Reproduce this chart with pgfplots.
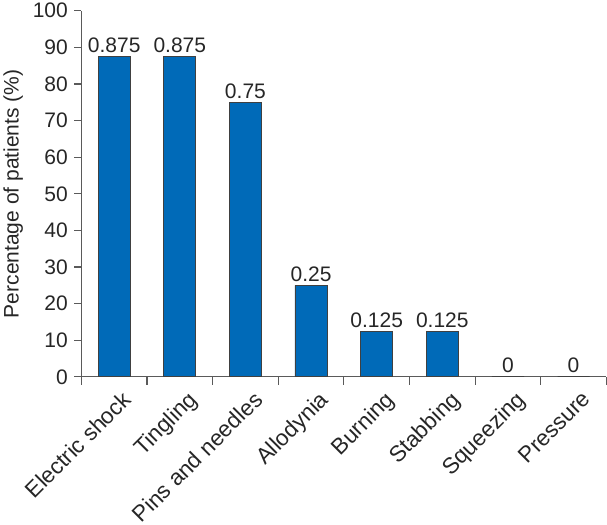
\documentclass[border=0pt]{standalone}
\usepackage{fontspec}
\setmainfont{Liberation Sans}
\usepackage{pgfplots}
\pgfplotsset{compat=1.18}
\definecolor{barblue}{RGB}{0,106,184}
\definecolor{axisgray}{RGB}{90,90,90}
\begin{document}
\begin{tikzpicture}
\begin{axis}[
  scale only axis,width=525pt,height=366pt,
  xmin=-0.5,xmax=7.5,ymin=0,ymax=100,
  axis x line*=bottom,axis y line*=left,
  axis line style={-,axisgray,line width=1.2pt},
  ytick={0,10,...,100},
  xtick={0,...,7},
  xticklabels={Electric shock,Tingling,Pins and needles,Allodynia,Burning,Stabbing,Squeezing,Pressure},
  minor xtick={-0.5,0.5,...,7.5},
  x tick style={draw=none},
  minor x tick style={draw=axisgray,line width=1.2pt},
  minor tick length=8pt,
  y tick style={axisgray,line width=1.2pt},
  tick align=outside,major tick length=7pt,
  ticklabel style={font=\fontsize{21}{24}\selectfont,text=black!85},
  xticklabel style={rotate=45,anchor=north east,inner sep=1pt,yshift=-8pt,xshift=2pt,font=\fontsize{22.5}{25}\selectfont},
  yticklabel style={xshift=-3pt},
  /pgf/number format/assume math mode=true,
  ylabel={Percentage of patients (\%)},
  ylabel style={font=\fontsize{21}{24}\selectfont,text=black!85,yshift=3pt},
  nodes near coords,point meta=explicit symbolic,
  every node near coord/.append style={font=\fontsize{21}{24}\selectfont,text=black!85,yshift=0pt},
  clip=false
]
\addplot[ybar,bar width=0.49,fill=barblue,draw=black!75,line width=0.8pt] coordinates {
 (0,87.5) [0.875] (1,87.5) [0.875] (2,75) [0.75] (3,25) [0.25]
 (4,12.5) [0.125] (5,12.5) [0.125] (6,0) [0] (7,0) [0]
};
\end{axis}
\end{tikzpicture}
\end{document}
